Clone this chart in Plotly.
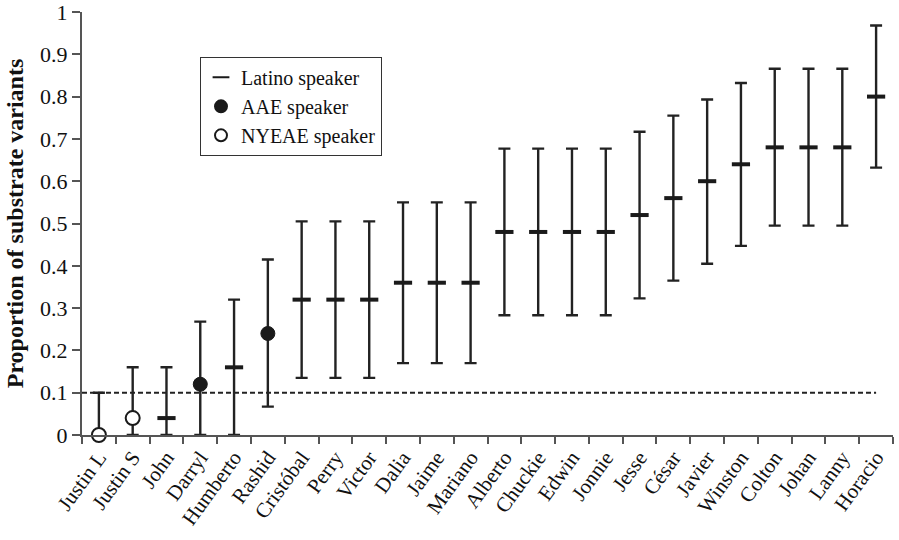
import plotly.graph_objects as go

speakers = ["Justin L", "Justin S", "John", "Darryl", "Humberto", "Rashid", "Cristóbal",
            "Perry", "Victor", "Dalia", "Jaime", "Mariano", "Alberto", "Chuckie", "Edwin",
            "Jonnie", "Jesse", "César", "Javier", "Winston", "Colton", "Johan", "Lanny", "Horacio"]
groups = ["NYEAE", "NYEAE", "Latino", "AAE", "Latino", "AAE", "Latino",
          "Latino", "Latino", "Latino", "Latino", "Latino", "Latino", "Latino", "Latino",
          "Latino", "Latino", "Latino", "Latino", "Latino", "Latino", "Latino", "Latino", "Latino"]
proportion = [0.00, 0.04, 0.04, 0.12, 0.16, 0.24, 0.32, 0.32, 0.32, 0.36, 0.36, 0.36,
              0.48, 0.48, 0.48, 0.48, 0.52, 0.56, 0.60, 0.64, 0.68, 0.68, 0.68, 0.80]
upper = [0.100, 0.160, 0.160, 0.268, 0.320, 0.415, 0.505, 0.505, 0.505, 0.550, 0.550, 0.550,
         0.677, 0.677, 0.677, 0.677, 0.717, 0.755, 0.793, 0.832, 0.866, 0.866, 0.866, 0.968]
lower = [0.000, 0.000, 0.000, 0.000, 0.000, 0.067, 0.135, 0.135, 0.135, 0.170, 0.170, 0.170,
         0.283, 0.283, 0.283, 0.283, 0.323, 0.365, 0.405, 0.447, 0.495, 0.495, 0.495, 0.632]
threshold = 0.1

legend_names = {"Latino": "Latino speaker", "AAE": "AAE speaker", "NYEAE": "NYEAE speaker"}
marker_styles = {
    "Latino": dict(symbol="line-ew", size=13, color="#1a1a1a", line=dict(color="#1a1a1a", width=4)),
    "AAE": dict(symbol="circle", size=14, color="#1a1a1a", line=dict(color="#1a1a1a", width=1)),
    "NYEAE": dict(symbol="circle", size=14, color="white", line=dict(color="#1a1a1a", width=2)),
}

ink = "#222222"
font_family = "Liberation Serif"

fig = go.Figure()

# dashed reference line
fig.add_shape(type="line", xref="x", yref="y", x0=-0.5, x1=len(speakers) - 1,
              y0=threshold, y1=threshold, line=dict(color=ink, width=2, dash="5px,3px"), layer="below")

for g in ["Latino", "AAE", "NYEAE"]:
    idx = [i for i, gg in enumerate(groups) if gg == g]
    fig.add_trace(go.Scatter(
        x=[speakers[i] for i in idx],
        y=[proportion[i] for i in idx],
        mode="markers",
        name=legend_names[g],
        marker=marker_styles[g],
        error_y=dict(type="data", symmetric=False,
                     array=[upper[i] - proportion[i] for i in idx],
                     arrayminus=[proportion[i] - lower[i] for i in idx],
                     color=ink, thickness=2.4, width=6),
        cliponaxis=False,
    ))

fig.update_layout(
    width=899, height=540,
    margin=dict(l=82, r=6, t=12, b=105),
    paper_bgcolor="white", plot_bgcolor="white",
    font=dict(family=font_family, size=21, color="#111111"),
    showlegend=True,
    legend=dict(x=0.1455, y=0.894, xanchor="left", yanchor="top",
                bgcolor="white", bordercolor="#333333", borderwidth=1,
                font=dict(family=font_family, size=20, color="#111111"),
                itemsizing="constant", tracegroupgap=0, itemwidth=30,
                traceorder="normal"),
    xaxis=dict(type="category", categoryorder="array", categoryarray=speakers,
               range=[-0.5, len(speakers) - 0.5], automargin=False,
               showline=True, linecolor="#555555", linewidth=2,
               ticks="outside", tickson="boundaries", ticklen=7, tickwidth=2, tickcolor="#555555",
               tickangle=-54, tickfont=dict(family=font_family, size=21, color="#111111"),
               showgrid=False, zeroline=False),
    yaxis=dict(range=[0, 1], dtick=0.1, tick0=0, automargin=False,
               ticklabeloverflow="allow",
               showline=True, linecolor="#555555", linewidth=2,
               ticks="outside", ticklen=8, tickwidth=2, tickcolor="#555555",
               tickfont=dict(family=font_family, size=22, color="#111111"),
               showgrid=False, zeroline=False,
               title=dict(text="<b>Proportion of substrate variants</b>",
                          font=dict(family=font_family, size=24, color="#111111"), standoff=10)),
)

fig.write_html("out.html",
               config={"displayModeBar": False},
               post_script="document.body.style.margin='0';document.body.style.overflow='hidden';")
